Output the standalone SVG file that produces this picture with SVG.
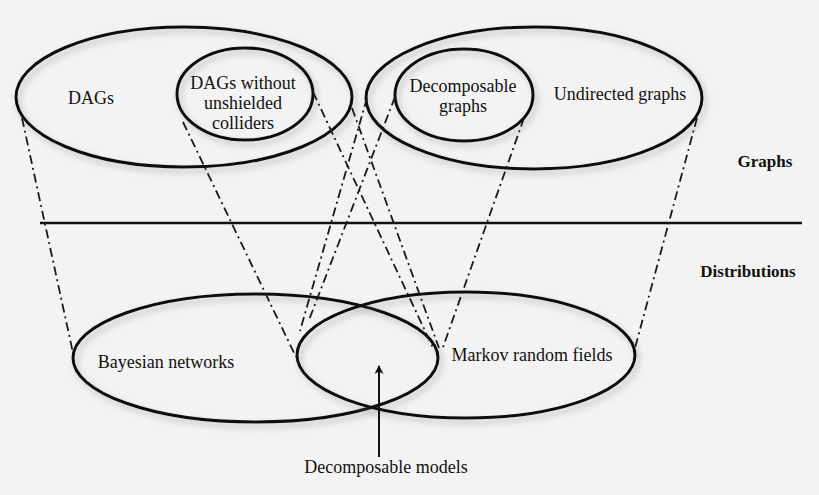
<svg xmlns="http://www.w3.org/2000/svg" width="819" height="495" viewBox="0 0 819 495">
<defs>
<style>
.bg{fill:#f3f3f3}
.set{fill:none;stroke:#111;stroke-width:3;filter:url(#sh)}
.conn{fill:none;stroke:#1a1a1a;stroke-width:1.8;stroke-dasharray:9 4 2 4}
.lbl{font-family:"Liberation Serif","Times New Roman",serif;font-size:18px;fill:#111;text-anchor:middle}
.side{font-family:"Liberation Serif","Times New Roman",serif;font-size:17px;font-weight:bold;fill:#111;text-anchor:middle}
</style>
<filter id="sh" x="-10%" y="-10%" width="120%" height="130%">
<feDropShadow dx="3" dy="4" stdDeviation="3" flood-color="#777" flood-opacity="0.45"/>
</filter>
<marker id="ah" viewBox="0 0 10 10" refX="9" refY="5" markerWidth="9" markerHeight="9" orient="auto" markerUnits="userSpaceOnUse">
<path d="M0,0 L10,5 L0,10 L3,5 Z" fill="#111"/>
</marker>
</defs>
<rect class="bg" x="0" y="0" width="819" height="495"/>

<g id="dags">
<ellipse class="set" cx="184" cy="97" rx="168" ry="70"/>
<text class="lbl" x="91" y="104">DAGs</text>
</g>
<g id="dags-without-unshielded-colliders">
<ellipse class="set" cx="245" cy="94" rx="68" ry="46"/>
<text class="lbl" x="243" y="89">DAGs without</text>
<text class="lbl" x="243" y="109">unshielded</text>
<text class="lbl" x="243" y="129">colliders</text>
</g>
<g id="undirected-graphs">
<ellipse class="set" cx="534" cy="98" rx="168" ry="71"/>
<text class="lbl" x="620" y="100">Undirected graphs</text>
</g>
<g id="decomposable-graphs">
<ellipse class="set" cx="464" cy="95" rx="69" ry="46"/>
<text class="lbl" x="463" y="92">Decomposable</text>
<text class="lbl" x="463" y="112">graphs</text>
</g>

<g id="divider">
<line x1="40" y1="223" x2="802" y2="223" stroke="#111" stroke-width="2.5"/>
<text class="side" x="765" y="167">Graphs</text>
<text class="side" x="748" y="277">Distributions</text>
</g>

<g id="bayesian-networks">
<ellipse class="set" cx="255.5" cy="358" rx="182.5" ry="64"/>
<text class="lbl" x="166" y="368">Bayesian networks</text>
</g>
<g id="markov-random-fields">
<ellipse class="set" cx="466" cy="355" rx="169" ry="63"/>
<text class="lbl" x="532" y="361">Markov random fields</text>
</g>
<g id="decomposable-models">
<line x1="379" y1="457" x2="379" y2="366" stroke="#111" stroke-width="2" marker-end="url(#ah)"/>
<text class="lbl" x="386" y="473">Decomposable models</text>
</g>

<g id="connectors">
<line class="conn" x1="22" y1="118" x2="73" y2="353"/>
<line class="conn" x1="183" y1="122" x2="296" y2="357"/>
<line class="conn" x1="313" y1="92" x2="434" y2="350"/>
<line class="conn" x1="352" y1="108" x2="439" y2="348"/>
<line class="conn" x1="367" y1="98" x2="300" y2="331"/>
<line class="conn" x1="395" y1="97" x2="309" y2="320"/>
<line class="conn" x1="524" y1="118" x2="442" y2="350"/>
<line class="conn" x1="697" y1="118" x2="635" y2="348"/>
</g>
</svg>
